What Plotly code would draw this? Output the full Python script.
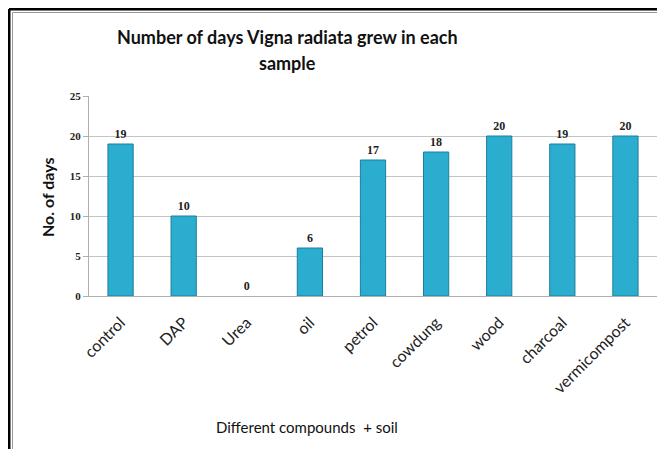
import plotly.graph_objects as go

categories = ["control", "DAP", "Urea", "oil", "petrol", "cowdung", "wood", "charcoal", "vermicompost"]
days = [19, 10, 0, 6, 17, 18, 20, 19, 20]

# page body has an 8px margin; figure sized so the page does not overflow the window
OFF = 8
W, H = 665 - 2 * OFF, 457 - 2 * OFF
L, R, T, B = 81, 0, 88, 153
pw, ph = W - L - R, H - T - B

def px(x):  # window x -> paper fraction
    return (x - OFF - L) / pw

def py(y):  # window y -> paper fraction
    return (H - B - (y - OFF)) / ph

fig = go.Figure()
fig.add_trace(go.Bar(
    x=categories, y=days,
    marker=dict(color="#2badd0",
                line=dict(color="#1b7f9c", width=[1 if v > 0 else 0 for v in days])),
    text=[str(v) for v in days], textposition="outside",
    textfont=dict(family="Liberation Serif", size=12, color="#222222", weight="bold"),
    cliponaxis=False,
))

shapes = [
    dict(type="line", xref="paper", yref="paper", x0=px(9), x1=px(9), y0=py(9), y1=py(H + 30), line=dict(color="black", width=3)),
    dict(type="line", xref="paper", yref="paper", x0=px(9), x1=px(W + 30), y0=py(9), y1=py(9), line=dict(color="black", width=3)),
    dict(type="line", xref="paper", yref="paper", x0=px(12.5), x1=px(12.5), y0=py(12.5), y1=py(H + 30), line=dict(color="#999999", width=1)),
    dict(type="line", xref="paper", yref="paper", x0=px(12.5), x1=px(W + 30), y0=py(12.5), y1=py(12.5), line=dict(color="#999999", width=1)),
]

title_font = dict(family="Lato", size=18, color="#111111")
annotations = [
    dict(text="<b>Number of days Vigna radiata grew in each</b>", xref="paper", yref="paper",
         x=px(287), y=py(37), xanchor="center", yanchor="middle", showarrow=False, font=title_font),
    dict(text="<b>sample</b>", xref="paper", yref="paper",
         x=px(287), y=py(63), xanchor="center", yanchor="middle", showarrow=False, font=title_font),
    dict(text="Different compounds  + soil", xref="paper", yref="paper",
         x=px(307), y=py(427), xanchor="center", yanchor="middle", showarrow=False,
         font=dict(family="Lato", size=15, color="#111111")),
    dict(text="<b>No. of days</b>", xref="paper", yref="paper", textangle=-90,
         x=px(47), y=py(197), xanchor="center", yanchor="middle", showarrow=False,
         font=dict(family="Lato", size=16, color="#111111")),
]

fig.update_layout(
    width=W, height=H,
    margin=dict(l=L, r=R, t=T, b=B, autoexpand=False),
    paper_bgcolor="white", plot_bgcolor="white",
    showlegend=False,
    bargap=0.6,
    shapes=shapes,
    annotations=annotations,
    xaxis=dict(
        tickangle=-45, automargin=False,
        tickfont=dict(family="Lato", size=16, color="#222222"),
        ticks="outside", ticklen=10, tickcolor="rgba(0,0,0,0)",
        showline=True, linecolor="#b0b0b0", linewidth=1,
        showgrid=False,
    ),
    yaxis=dict(
        range=[0, 25], dtick=5, automargin=False,
        tickfont=dict(family="Liberation Serif", size=11, color="#222222", weight="bold"),
        showline=True, linecolor="#b0b0b0", linewidth=1,
        ticks="outside", ticklen=5, tickcolor="#b0b0b0",
        showgrid=True, gridcolor="#c4c4c4", gridwidth=1,
        zeroline=False,
    ),
)

fig.write_html("out.html")
